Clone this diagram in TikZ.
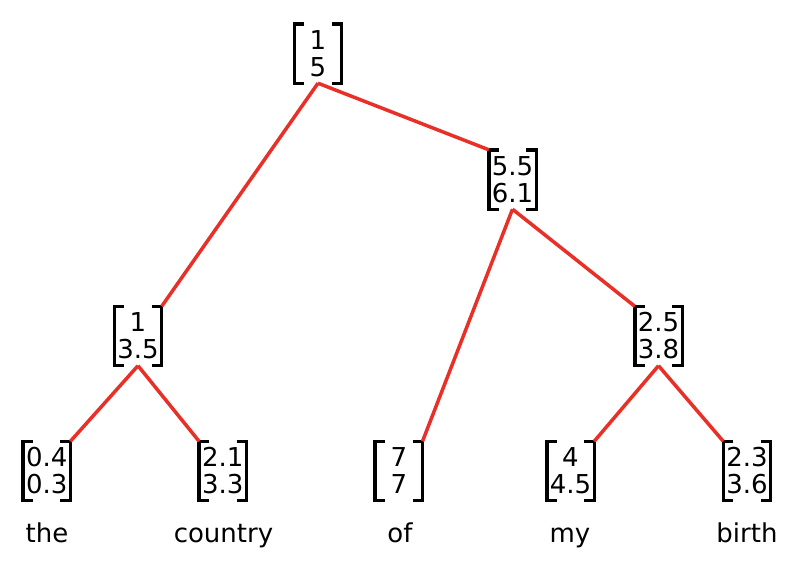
\documentclass[tikz,border=0pt]{standalone}
\usepackage{fontspec}
\setmainfont{DejaVu Sans}
\definecolor{treered}{RGB}{232,48,40}
\begin{document}
\begin{tikzpicture}[x=1pt,y=-1pt,
  vec/.style={align=center, inner sep=0pt, minimum width=47pt, minimum height=59pt,
    font=\fontsize{26}{27}\selectfont},
  bracket/.style={draw=black, line width=3.4pt, line join=miter, line cap=butt},
  word/.style={font=\fontsize{26}{27}\selectfont, anchor=base, inner sep=0pt},
  edge/.style={draw=treered, line width=3.5pt}]
\useasboundingbox (0,0) rectangle (798,568);

% vector nodes
\node[vec] (root) at (318,53.5)  {1\\5};
\node[vec] (rt)   at (512.5,179.5) {5.5\\6.1};
\node[vec] (lm)   at (138,336)   {1\\3.5};
\node[vec] (rm)   at (658.5,336) {2.5\\3.8};
\node[vec] (the)  at (46.7,471)  {0.4\\0.3};
\node[vec] (cty)  at (222.8,471) {2.1\\3.3};
\node[vec] (of)   at (398.8,471) {7\\7};
\node[vec] (my)   at (570.5,471) {4\\4.5};
\node[vec] (bth)  at (747,471)   {2.3\\3.6};

% square brackets around each vector
\foreach \n in {root,rt,lm,rm,the,cty,of,my,bth}{
  \draw[bracket] ([xshift=10pt]\n.north west) -- (\n.north west) -- (\n.south west) -- ([xshift=10pt]\n.south west);
  \draw[bracket] ([xshift=-10pt]\n.north east) -- (\n.north east) -- (\n.south east) -- ([xshift=-10pt]\n.south east);
}

% words
\node[word] (w1) at (47,542)    {the};
\node[word] (w2) at (223.5,542) {country};
\node[word] (w3) at (400,542)   {of};
\node[word] (w4) at (570,542)   {my};
\node[word] (w5) at (747,542)   {birth};

% tree edges
\draw[edge] (root.south) -- (lm.north east);
\draw[edge] (root.south) -- (rt.north west);
\draw[edge] (rt.south) -- (of.north east);
\draw[edge] (rt.south) -- (rm.north west);
\draw[edge] (lm.south) -- (the.north east);
\draw[edge] (lm.south) -- (cty.north west);
\draw[edge] (rm.south) -- (my.north east);
\draw[edge] (rm.south) -- (bth.north west);
\end{tikzpicture}
\end{document}
